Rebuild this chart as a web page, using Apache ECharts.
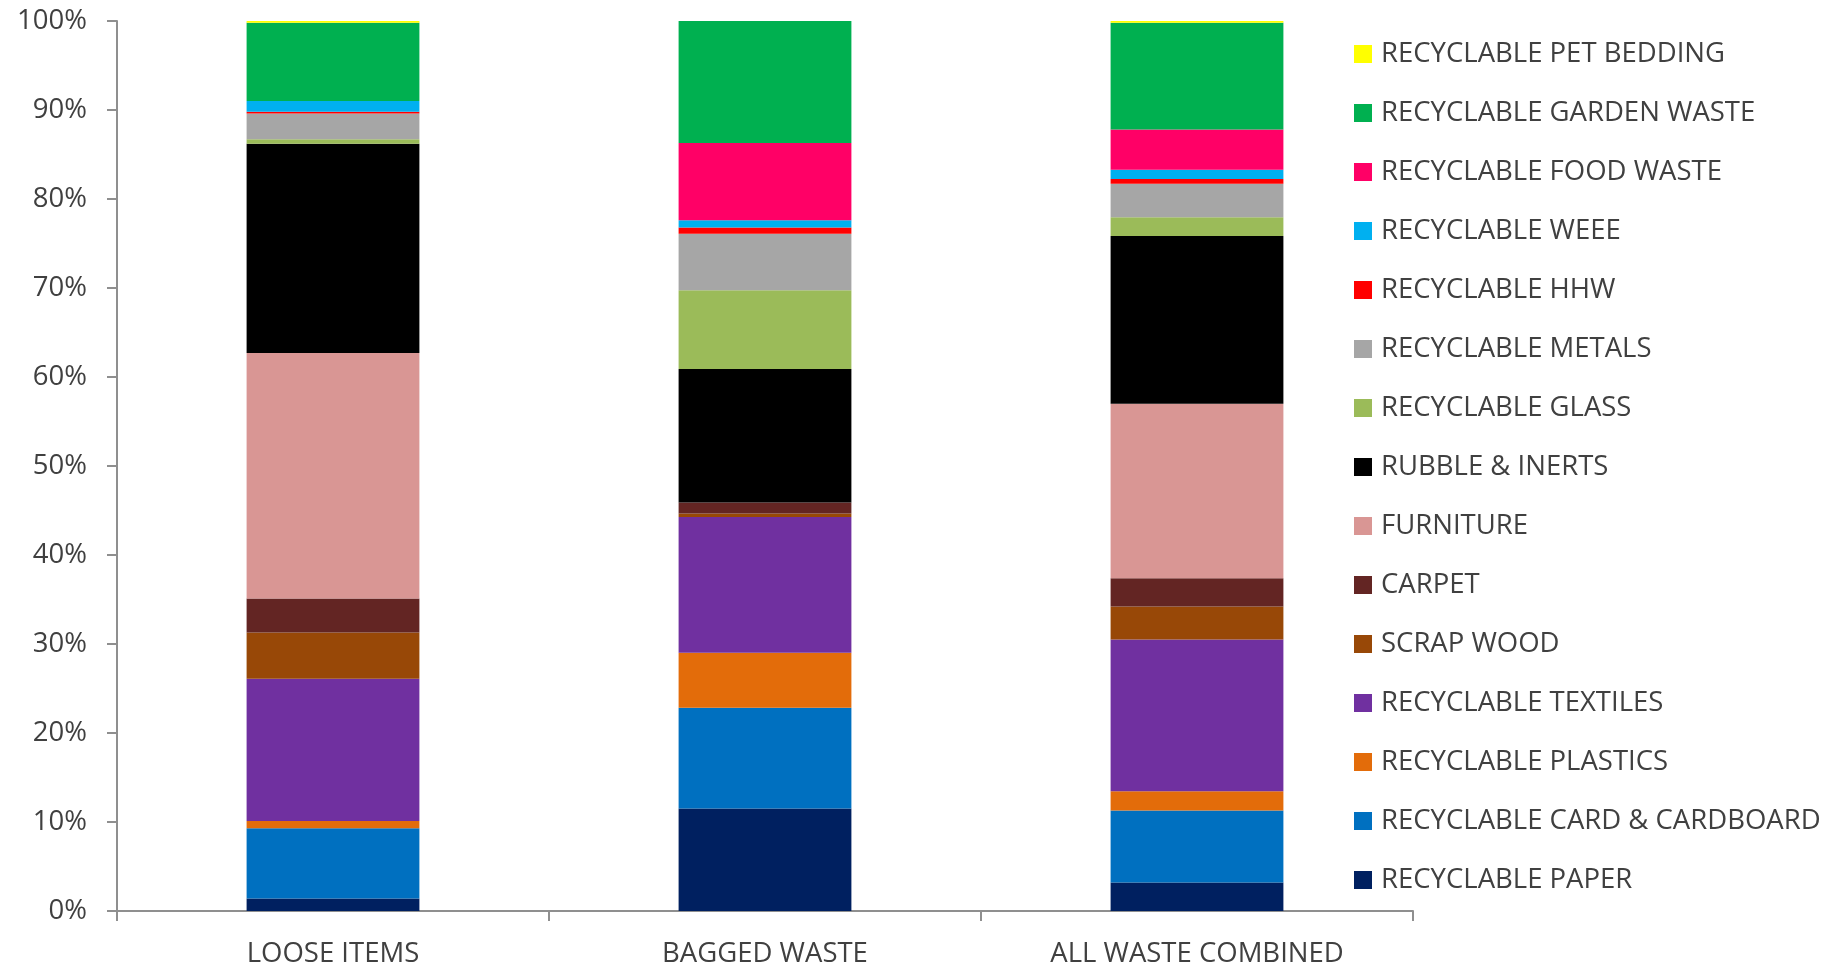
<!DOCTYPE html>
<html>
<head>
<meta charset="utf-8">
<script src="https://cdn.jsdelivr.net/npm/echarts@6/dist/echarts.min.js"></script>
<style>
html,body{margin:0;padding:0;background:#fff;}
#chart{width:1839px;height:968px;}
</style>
</head>
<body>
<div id="chart"></div>
<script>
const categories = ['LOOSE ITEMS', 'BAGGED WASTE', 'ALL WASTE COMBINED'];
const yTicks = [0, 10, 20, 30, 40, 50, 60, 70, 80, 90, 100];

// stacked bottom to top
const paper     = [1.4, 11.53, 3.2];
const card      = [7.9, 11.3, 8.1];
const plastics  = [0.8, 6.2, 2.15];
const textiles  = [16.0, 15.25, 17.05];
const scrapWood = [5.2, 0.37, 3.7];
const carpet    = [3.8, 1.25, 3.2];
const furniture = [27.6, 0, 19.6];
const rubble    = [23.5, 15.0, 18.85];
const glass     = [0.5, 8.85, 2.1];
const metals    = [2.9, 6.35, 3.75];
const hhw       = [0.2, 0.7, 0.55];
const weee      = [1.2, 0.8, 1.05];
const food      = [0, 8.7, 4.5];
const garden    = [8.8, 13.7, 12.0];
const petBedding= [0.2, 0, 0.2];

const seriesDefs = [
  ['RECYCLABLE PAPER', paper, '#002060'],
  ['RECYCLABLE CARD & CARDBOARD', card, '#0070C0'],
  ['RECYCLABLE PLASTICS', plastics, '#E36C0A'],
  ['RECYCLABLE TEXTILES', textiles, '#7030A0'],
  ['SCRAP WOOD', scrapWood, '#984807'],
  ['CARPET', carpet, '#632523'],
  ['FURNITURE', furniture, '#D99694'],
  ['RUBBLE & INERTS', rubble, '#000000'],
  ['RECYCLABLE GLASS', glass, '#9BBB59'],
  ['RECYCLABLE METALS', metals, '#A6A6A6'],
  ['RECYCLABLE HHW', hhw, '#FF0000'],
  ['RECYCLABLE WEEE', weee, '#00B0F0'],
  ['RECYCLABLE FOOD WASTE', food, '#FF0066'],
  ['RECYCLABLE GARDEN WASTE', garden, '#00B050'],
  ['RECYCLABLE PET BEDDING', petBedding, '#FFFF00']
];

const FONT = '"Open Sans", sans-serif';
const TXT = '#404040';
const AX = '#8f8f8f';

const chart = echarts.init(document.getElementById('chart'), null, {renderer: 'canvas'});
chart.setOption({
  animation: false,
  backgroundColor: '#ffffff',
  grid: {left: 117, right: 426, top: 21, bottom: 56, containLabel: false},
  legend: {
    orient: 'vertical',
    left: 1354,
    top: 39,
    padding: 0,
    itemWidth: 18,
    itemHeight: 18,
    itemGap: 29,
    icon: 'rect',
    data: seriesDefs.map(s => s[0]).reverse(),
    textStyle: {fontFamily: FONT, fontSize: 27.5, color: TXT, lineHeight: 30, padding: [0, 0, 0, 4]}
  },
  xAxis: {
    type: 'category',
    data: categories,
    axisLine: {lineStyle: {color: AX, width: 2}},
    axisTick: {show: true, length: 10, lineStyle: {color: AX, width: 2}},
    axisLabel: {fontFamily: FONT, fontSize: 27.5, color: TXT, margin: 29}
  },
  yAxis: {
    type: 'value',
    min: 0,
    max: 100,
    interval: 10,
    splitLine: {show: false},
    axisLine: {show: true, lineStyle: {color: AX, width: 2}},
    axisTick: {show: true, length: 10, lineStyle: {color: AX, width: 2}},
    axisLabel: {
      fontFamily: FONT, fontSize: 27.5, color: TXT, margin: 30,
      formatter: v => (yTicks.indexOf(v) >= 0 ? v + '%' : '')
    }
  },
  series: seriesDefs.map(([name, data, color]) => ({
    name: name,
    type: 'bar',
    stack: 'total',
    data: data,
    barWidth: '40%',
    itemStyle: {color: color},
    emphasis: {disabled: true}
  }))
});
</script>
</body>
</html>
